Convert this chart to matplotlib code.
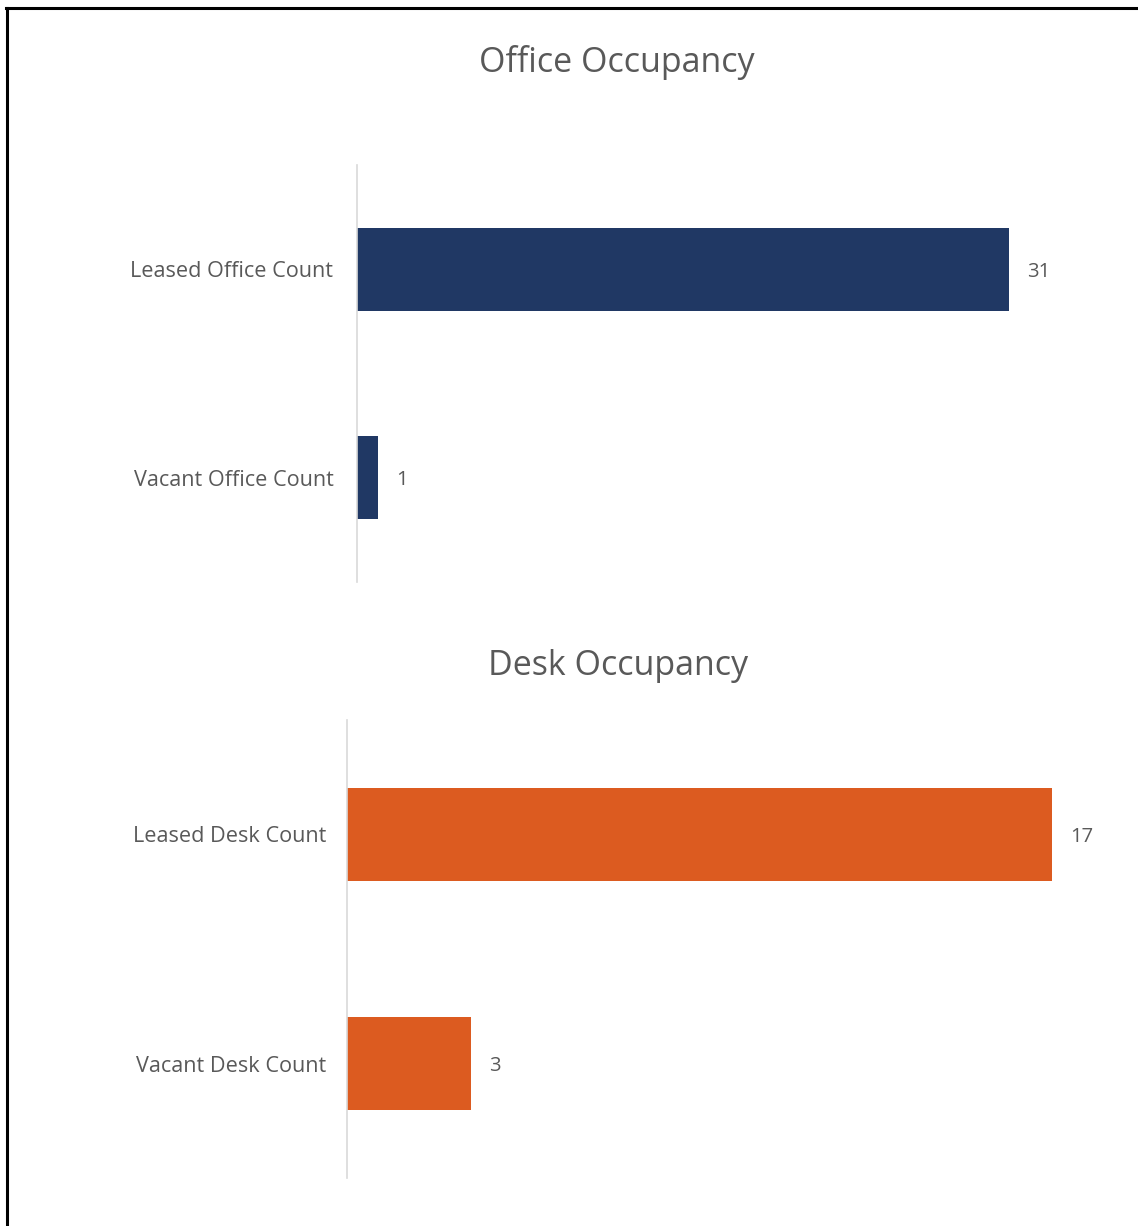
import matplotlib
matplotlib.use("Agg")
import matplotlib.pyplot as plt
from matplotlib.lines import Line2D

office_categories = ["Leased Office Count", "Vacant Office Count"]
office_values = [31, 1]
desk_categories = ["Leased Desk Count", "Vacant Desk Count"]
desk_values = [17, 3]

W, H = 1138, 1226
plt.rcParams['font.family'] = ['Open Sans', 'DejaVu Sans']
fig = plt.figure(figsize=(W / 100, H / 100), dpi=100)
fig.patch.set_facecolor('white')

GRAY = '#595959'

def px_axes(x0, y0, x1, y1):
    return fig.add_axes([x0 / W, 1 - y1 / H, (x1 - x0) / W, (y1 - y0) / H])

def draw(ax, cats, vals, color, xmax, bar_h, pad):
    y = list(range(len(cats)))
    ax.barh(y, vals, height=bar_h, color=color)
    ax.set_ylim(len(cats) - 0.5, -0.5)
    ax.set_xlim(0, xmax)
    ax.set_yticks(y)
    ax.set_yticklabels(cats, color=GRAY, fontsize=15.6)
    ax.tick_params(axis='y', length=0, pad=pad)
    ax.set_xticks([])
    for s in ['top', 'right', 'bottom']:
        ax.spines[s].set_visible(False)
    ax.spines['left'].set_color('#d9d9d9')
    ax.spines['left'].set_linewidth(1.2)
    for yi, v in zip(y, vals):
        ax.annotate(str(v), (v, yi), xytext=(13, 0), textcoords='offset points',
                    va='center_baseline', ha='left', color=GRAY, fontsize=14.5)

# Office chart: scale 31 -> 652 px
ax1 = px_axes(357, 165, 357 + 652 * 33 / 31, 582)
draw(ax1, office_categories, office_values, '#203864', 33, 0.4, 17)
fig.text(617 / W, 1 - 58 / H, "Office Occupancy", ha='center', va='center_baseline',
         fontsize=24.5, color=GRAY)

# Desk chart: scale 17 -> 705 px
ax2 = px_axes(347, 720, 347 + 705 * 18 / 17, 1178)
draw(ax2, desk_categories, desk_values, '#dc5b20', 18, 0.405, 15)
fig.text(618 / W, 1 - 662 / H, "Desk Occupancy", ha='center', va='center_baseline',
         fontsize=24.5, color=GRAY)

# frame border (top and left)
fig.add_artist(Line2D([6 / W, 1], [1 - 8 / H, 1 - 8 / H], color='black', lw=2.2,
                      transform=fig.transFigure))
fig.add_artist(Line2D([7 / W, 7 / W], [0, 1 - 8 / H], color='black', lw=2.2,
                      transform=fig.transFigure))

fig.savefig("out.png", dpi=100, facecolor='white')
